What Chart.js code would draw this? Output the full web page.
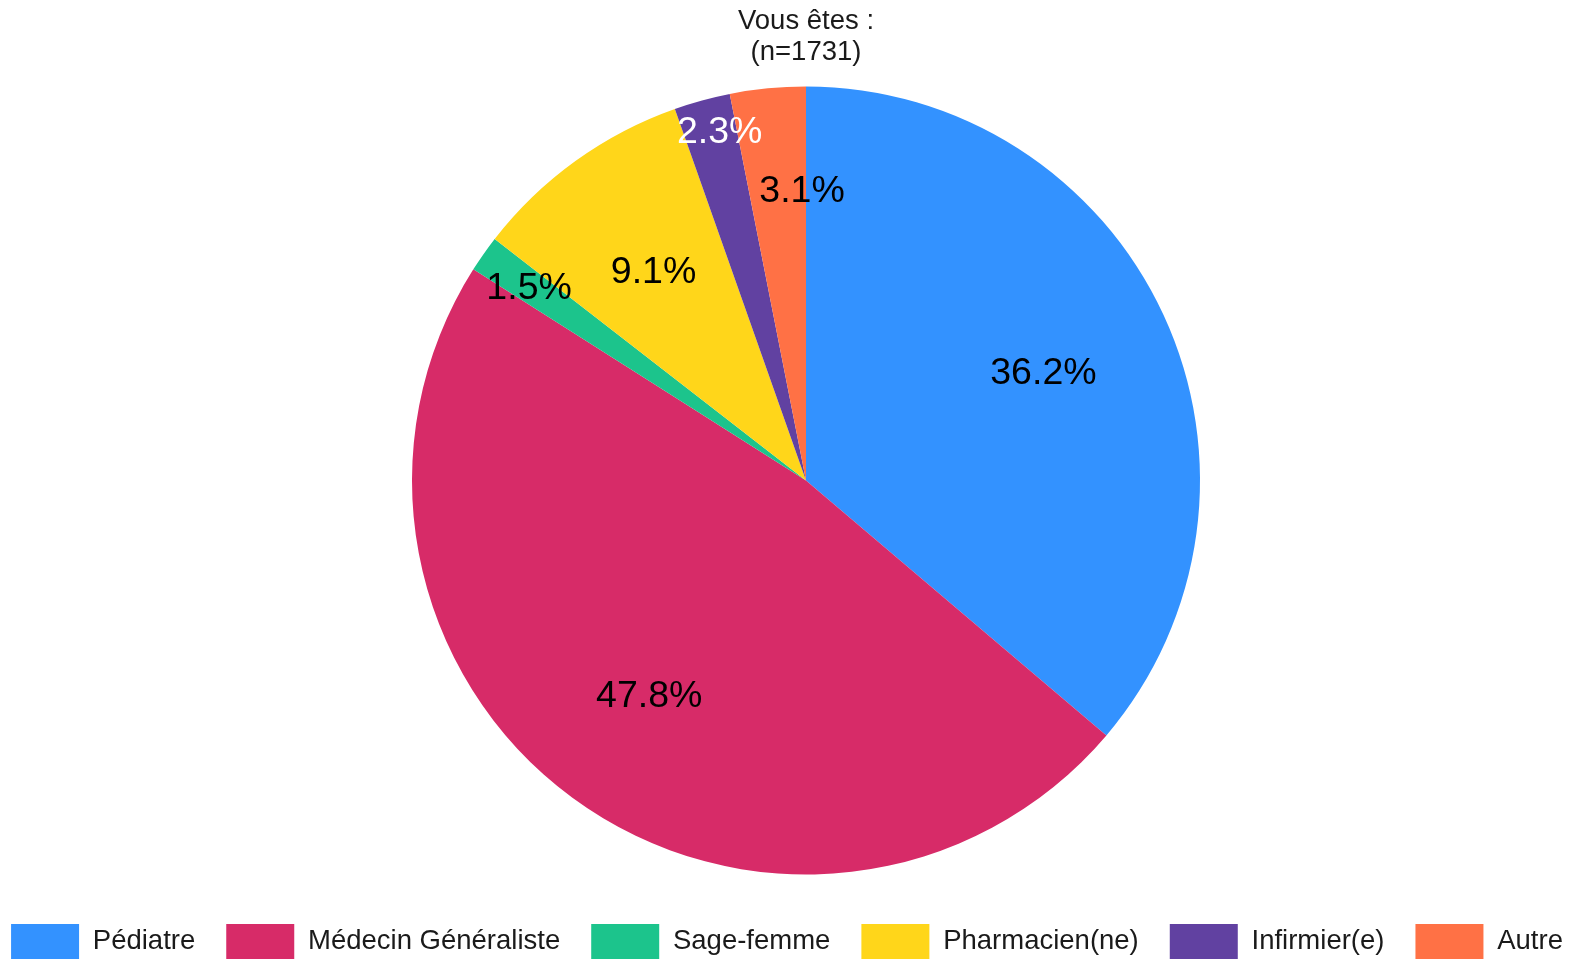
<!DOCTYPE html>
<html>
<head>
<meta charset="utf-8">
<script src="https://cdn.jsdelivr.net/npm/chart.js@4"></script>
<style>
  html, body { margin: 0; padding: 0; background: #fff; }
  #wrap { width: 1574px; height: 965px; }
</style>
</head>
<body>
<div id="wrap"><canvas id="pieChart"></canvas></div>
<script>
const categories = ["Pédiatre", "Médecin Généraliste", "Sage-femme", "Pharmacien(ne)", "Infirmier(e)", "Autre"];
const percents = [36.2, 47.8, 1.5, 9.1, 2.3, 3.1];
const titleLines = ["Vous êtes :", "(n=1731)"];

const colors = ["#3392FF", "#D72B68", "#1CC48C", "#FFD61A", "#6141A1", "#FF7145"];
const labelColors = ["#000", "#000", "#000", "#000", "#fff", "#000"];
// label placement: fraction of radius, and small angle nudge (deg) for the crowded thin slices
const labelRadius = [0.664, 0.671, 0.859, 0.661, 0.918, 0.74];
const labelNudge = [0, 0, 0, 0, 1.5, 4.8];

const FONT = "'Liberation Sans', Arial, sans-serif";

// ===== Slice labels =====
const sliceLabels = {
  id: "sliceLabels",
  afterDatasetsDraw(chart) {
    const ctx = chart.ctx;
    const meta = chart.getDatasetMeta(0);
    ctx.save();
    ctx.font = "37.5px " + FONT;
    ctx.textAlign = "center";
    ctx.textBaseline = "middle";
    meta.data.forEach((arc, i) => {
      const p = arc.getProps(["x", "y", "startAngle", "endAngle", "outerRadius"], true);
      const mid = (p.startAngle + p.endAngle) / 2 + labelNudge[i] * Math.PI / 180;
      const r = p.outerRadius * labelRadius[i];
      ctx.fillStyle = labelColors[i];
      ctx.fillText(percents[i].toFixed(1) + "%", p.x + Math.cos(mid) * r, p.y + Math.sin(mid) * r + 3);
    });
    ctx.restore();
  }
};

// pie + title sit a bit right of the page centre, legend stays centred
const shiftRight = {
  id: "shiftRight",
  afterLayout(chart) {
    chart.chartArea.left += 19;
    chart.chartArea.right += 19;
    chart.titleBlock.left += 19;
    chart.titleBlock.right += 19;
  }
};

const ctx = document.getElementById("pieChart").getContext("2d");

new Chart(ctx, {
  type: "pie",
  data: {
    labels: categories,
    datasets: [{
      data: percents,
      backgroundColor: colors,
      borderWidth: 0
    }]
  },
  options: {
    responsive: true,
    maintainAspectRatio: false,
    animation: false,
    events: [],
    layout: { padding: { left: -60, right: -60, top: 0, bottom: -4 } },
    plugins: {
      title: {
        display: true,
        text: titleLines,
        color: "#1a1a1a",
        font: { family: FONT, size: 27.5, weight: "normal", lineHeight: 1.127 },
        padding: { top: 5.5, bottom: 19 }
      },
      legend: {
        position: "bottom",
        title: { display: true, text: "", font: { size: 18.5, lineHeight: 1 }, padding: 0 },
        labels: {
          boxWidth: 68,
          boxHeight: 35,
          padding: 31,
          color: "#1a1a1a",
          font: { family: FONT, size: 27.5 }
        }
      },
      tooltip: { enabled: false }
    }
  },
  plugins: [sliceLabels, shiftRight]
});
</script>
</body>
</html>
